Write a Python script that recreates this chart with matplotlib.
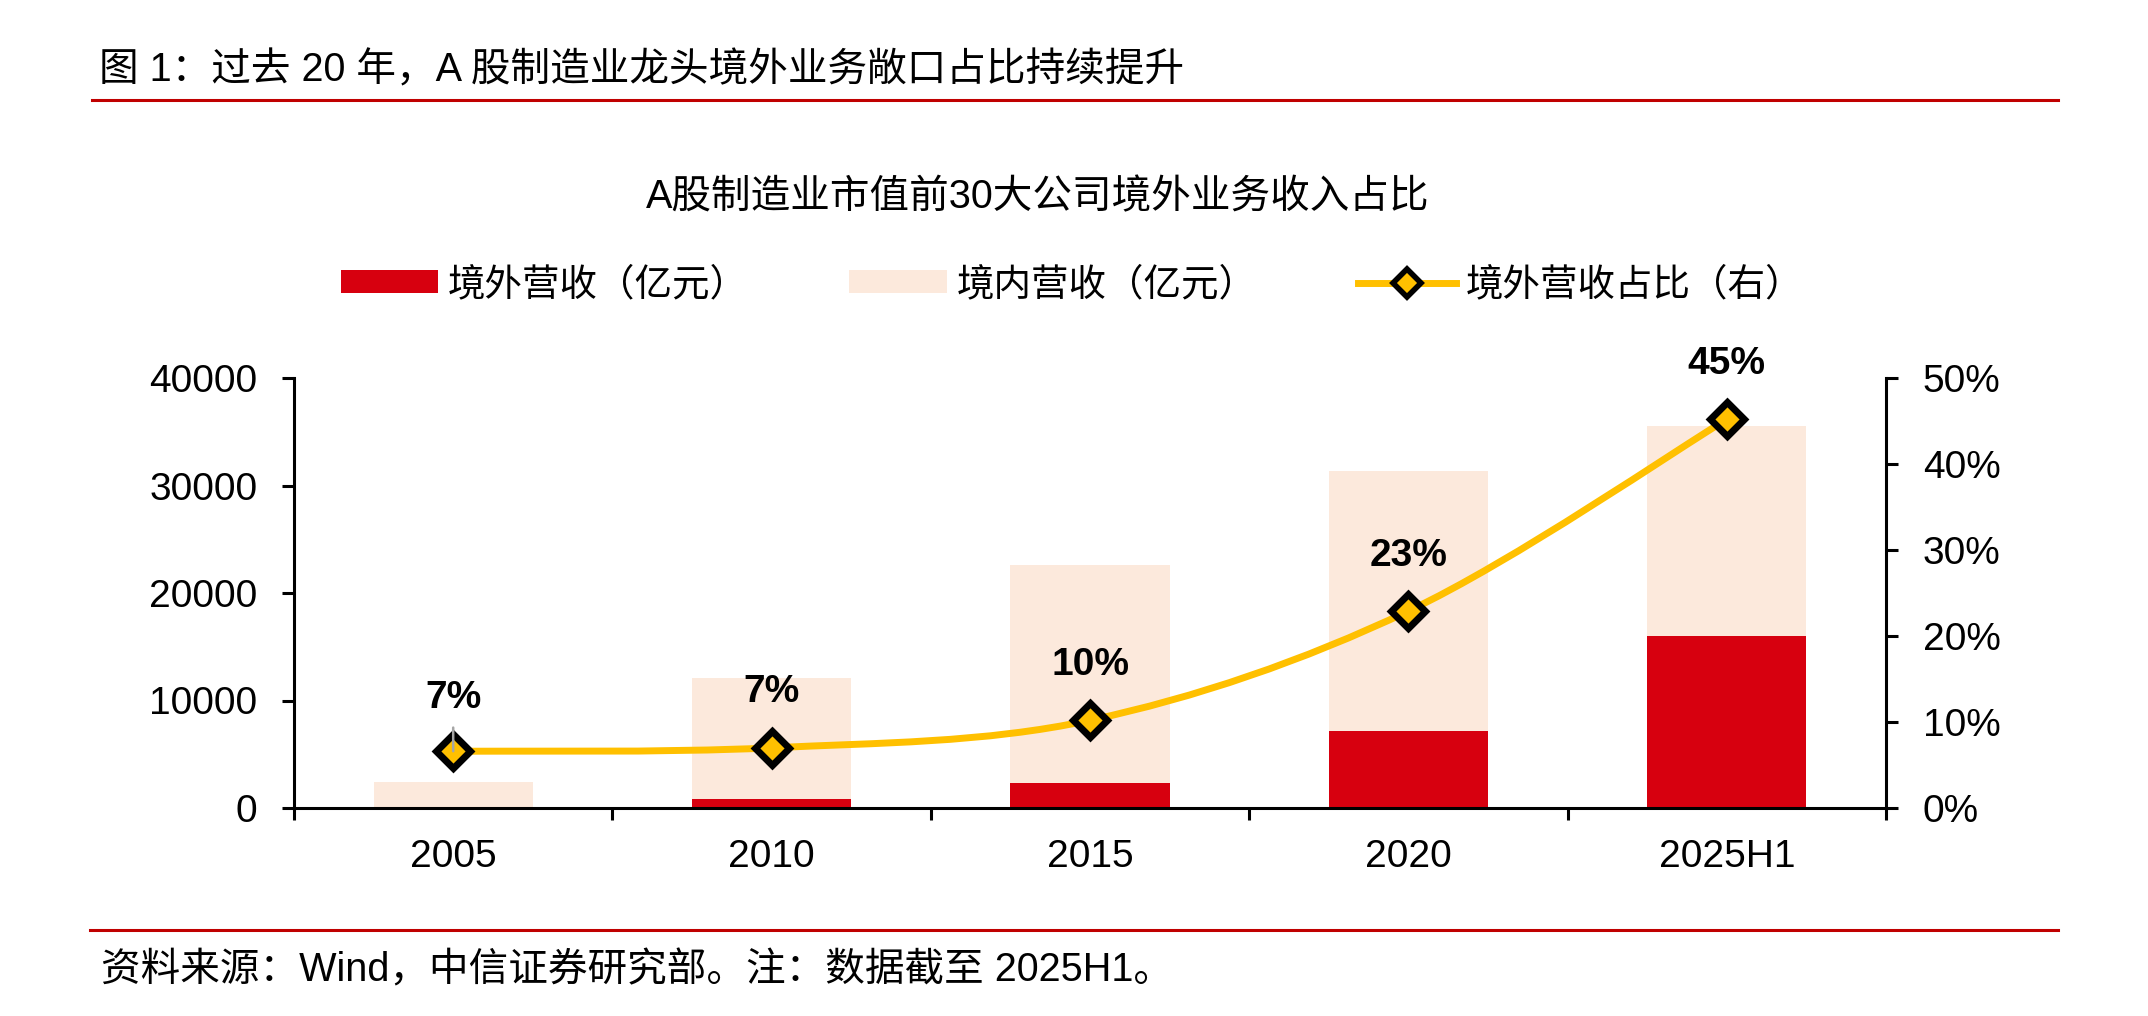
import matplotlib
matplotlib.use('Agg')
import matplotlib.pyplot as plt
from matplotlib.lines import Line2D
from matplotlib.patches import Patch, PathPatch
from matplotlib.path import Path
import numpy as np

plt.rcParams['font.family'] = ['Liberation Sans', 'Noto Sans CJK SC']

# 数据
categories = ['2005', '2010', '2015', '2020', '2025H1']
overseas = [120, 840, 2320, 7160, 16000]        # 境外营收（亿元）
domestic = [2330, 11260, 20280, 24190, 19530]   # 境内营收（亿元）
ratio = [6.6, 7.0, 10.2, 22.9, 45.2]            # 境外营收占比（%）
ratio_labels = ['7%', '7%', '10%', '23%', '45%']
left_ticks = [0, 10000, 20000, 30000, 40000]
right_ticks = [0, 10, 20, 30, 40, 50]

RED = '#D7000F'
BEIGE = '#FCE9DC'
YELLOW = '#FFC000'
LINE_RED = '#C00000'

W, H = 2148, 1016
fig = plt.figure(figsize=(W / 100, H / 100), dpi=100)

# 标题和分隔线
fig.text(99 / W, 1 - 70 / H, '图 1：过去 20 年，A 股制造业龙头境外业务敞口占比持续提升',
         fontsize=28.5, ha='left', va='center')
fig.add_artist(Line2D([92 / W, 2058 / W], [1 - 100 / H] * 2, color=LINE_RED, lw=2.2))
fig.text(1038 / W, 1 - 197 / H, 'A股制造业市值前30大公司境外业务收入占比',
         fontsize=28.5, ha='center', va='center')
fig.add_artist(Line2D([90 / W, 2058 / W], [1 - 930 / H] * 2, color=LINE_RED, lw=2.2))
fig.text(101 / W, 1 - 970 / H, '资料来源：Wind，中信证券研究部。注：数据截至 2025H1。',
         fontsize=28.5, ha='left', va='center')

ax = fig.add_axes([294 / W, 1 - 808 / H, (1886 - 294) / W, (808 - 378) / H])
x = np.arange(len(categories))
ax.bar(x, overseas, width=0.5, color=RED, zorder=1)
ax.bar(x, domestic, width=0.5, bottom=overseas, color=BEIGE, zorder=1)
ax.set_xlim(-0.5, len(categories) - 0.5)
ax.set_ylim(0, 40000)
ax.set_yticks(left_ticks)
ax.set_yticklabels([str(v) for v in left_ticks])
ax.set_xticks(x)
ax.set_xticklabels(categories)
ax.set_xticks(np.arange(-0.5, len(categories)), minor=True)
ax.tick_params(axis='y', direction='out', length=8.5, width=2.2, pad=18, labelsize=28)
ax.tick_params(axis='x', which='major', length=0, pad=22, labelsize=28)
ax.tick_params(axis='x', which='minor', direction='out', length=8.5, width=2.2)
for s in ['top', 'right']:
    ax.spines[s].set_visible(False)
for s in ['left', 'bottom']:
    ax.spines[s].set_linewidth(2.2)

ax2 = ax.twinx()
ax2.set_ylim(0, 50)
ax2.set_yticks(right_ticks)
ax2.set_yticklabels([f'{v}%' for v in right_ticks])
ax2.tick_params(axis='y', direction='out', length=8.5, width=2.2, pad=18, labelsize=28)
for s in ['top', 'left', 'bottom']:
    ax2.spines[s].set_visible(False)
ax2.spines['right'].set_linewidth(2.2)

# 平滑曲线（Catmull-Rom 转三次贝塞尔）
pts = np.column_stack([x, ratio]).astype(float)
ext = np.vstack([pts[0], pts, pts[-1]])
verts = [tuple(pts[0])]
codes = [Path.MOVETO]
for i in range(len(pts) - 1):
    p0, p1, p2, p3 = ext[i], ext[i + 1], ext[i + 2], ext[i + 3]
    c1 = p1 + (p2 - p0) / 6
    c2 = p2 - (p3 - p1) / 6
    verts += [tuple(c1), tuple(c2), tuple(p2)]
    codes += [Path.CURVE4] * 3
ax2.add_patch(PathPatch(Path(verts, codes), fill=False, edgecolor=YELLOW, lw=5,
                        capstyle='round', zorder=3))
ax2.plot(x, ratio, linestyle='none', marker='D', markersize=17, markerfacecolor=YELLOW,
         markeredgecolor='black', markeredgewidth=5, zorder=4)

for i, lab in enumerate(ratio_labels):
    if i == 0:
        ax2.annotate(lab, (x[i], ratio[i]), xytext=(0, 38), textcoords='offset points',
                     ha='center', va='center', fontsize=28, fontweight='bold', zorder=6,
                     arrowprops=dict(arrowstyle='-', color='#A6A6A6', lw=1.8,
                                     shrinkA=6, shrinkB=0))
    else:
        ax2.annotate(lab, (x[i], ratio[i]), xytext=(0, 40), textcoords='offset points',
                     ha='center', va='center', fontsize=28, fontweight='bold', zorder=6)

handles = [
    Patch(facecolor=RED, edgecolor='none'),
    Patch(facecolor=BEIGE, edgecolor='none'),
    Line2D([0], [0], color=YELLOW, lw=5, marker='D', markersize=14,
           markerfacecolor=YELLOW, markeredgecolor='black', markeredgewidth=4),
]
labels = ['境外营收（亿元）', '境内营收（亿元）', '境外营收占比（右）']
fig.legend(handles, labels, loc='center', bbox_to_anchor=(1072 / W, 1 - 285 / H), ncol=3,
           frameon=False, fontsize=27, handlelength=2.6, handleheight=0.56,
           handletextpad=0.27, columnspacing=2.7)

fig.savefig('out.png', dpi=100)
